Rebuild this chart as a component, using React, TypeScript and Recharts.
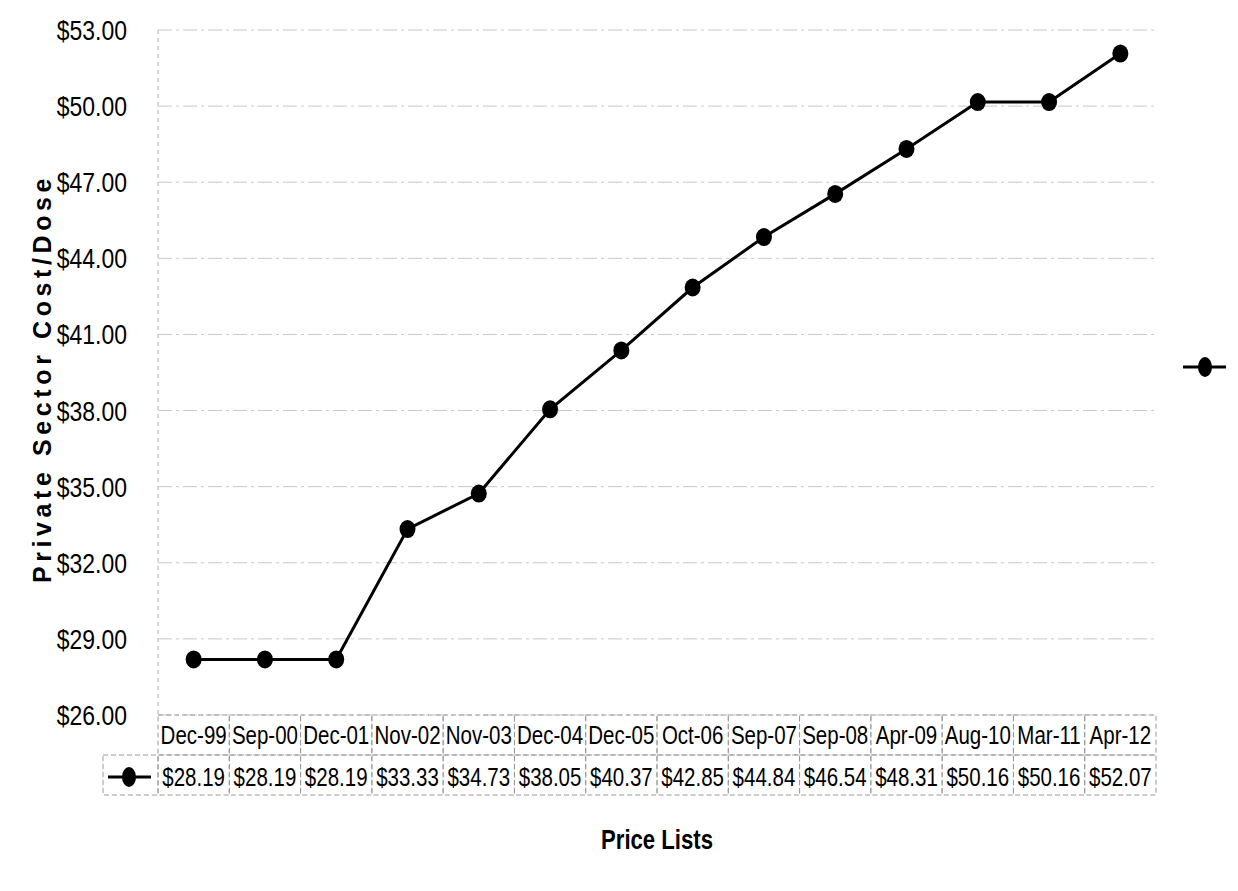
import { LineChart, Line, XAxis, YAxis, CartesianGrid, Legend } from 'recharts'

const categories = ['Dec-99', 'Sep-00', 'Dec-01', 'Nov-02', 'Nov-03', 'Dec-04', 'Dec-05', 'Oct-06', 'Sep-07', 'Sep-08', 'Apr-09', 'Aug-10', 'Mar-11', 'Apr-12']
const costs = [28.19, 28.19, 28.19, 33.33, 34.73, 38.05, 40.37, 42.85, 44.84, 46.54, 48.31, 50.16, 50.16, 52.07]
const yTicks = [26, 29, 32, 35, 38, 41, 44, 47, 50, 53]

const W = 1238
const H = 891
const MARGIN = { top: 30, right: 82, left: 0, bottom: 0 }
const Y_AXIS_W = 158
const PLOT_W = W - MARGIN.left - Y_AXIS_W - MARGIN.right
const ROW_H = 40
const SANS = '"Liberation Sans", Arial, sans-serif'
// no Arial Narrow here, so squeeze Liberation Sans horizontally
const NARROW_X = 0.82
const cellStroke = '#9a9a9a'

const fmt = (v: number) => `$${v.toFixed(2)}`

const data = categories.map((c, i) => ({ name: c, cost: costs[i] }))

function NarrowText({ x, y, size, children, anchor = 'middle', bold = false }: any) {
  return (
    <text
      transform={`translate(${x},${y}) scale(${NARROW_X},1)`}
      textAnchor={anchor}
      fontFamily={SANS}
      fontWeight={bold ? 'bold' : 'normal'}
      fontSize={size}
      fill="#000"
    >
      {children}
    </text>
  )
}

function Marker({ cx, cy }: { cx: number; cy: number }) {
  return <ellipse cx={cx} cy={cy} rx={8} ry={9} fill="#000" />
}

function YTick(props: any) {
  const { x, y, payload } = props
  return (
    <NarrowText x={x} y={y + 10} size={28} anchor="end">
      {fmt(payload.value)}
    </NarrowText>
  )
}

function TableTick(props: any) {
  const { x, y, payload } = props
  const i = payload.index ?? props.index
  const band = (props.width || PLOT_W) / categories.length
  const left = x - band / 2
  return (
    <g>
      <rect x={left} y={y} width={band} height={ROW_H} fill="none" stroke={cellStroke} strokeDasharray="5 3" strokeWidth={1} />
      <rect x={left} y={y + ROW_H} width={band} height={ROW_H} fill="none" stroke={cellStroke} strokeDasharray="5 3" strokeWidth={1} />
      <NarrowText x={x} y={y + 29} size={25}>
        {payload.value}
      </NarrowText>
      <NarrowText x={x} y={y + ROW_H + 31} size={25}>
        {fmt(costs[i])}
      </NarrowText>
      {i === 0 && (
        <g>
          <rect x={left - 55} y={y + ROW_H} width={55} height={ROW_H} fill="none" stroke={cellStroke} strokeDasharray="5 3" strokeWidth={1} />
          <line x1={left - 50} x2={left - 7} y1={y + ROW_H + 22} y2={y + ROW_H + 22} stroke="#000" strokeWidth={3} />
          <ellipse cx={left - 29} cy={y + ROW_H + 22} rx={7} ry={10} fill="#000" />
        </g>
      )}
    </g>
  )
}

function XTitle(props: any) {
  const { viewBox } = props
  return (
    <NarrowText x={viewBox.x + viewBox.width / 2} y={849} size={27} bold>
      Price Lists
    </NarrowText>
  )
}

function YTitle(props: any) {
  const { viewBox } = props
  const cx = 42
  const cy = viewBox.y + viewBox.height / 2 + 6
  return (
    <text
      x={cx}
      y={cy}
      transform={`rotate(-90 ${cx} ${cy})`}
      textAnchor="middle"
      dominantBaseline="central"
      fontFamily={SANS}
      fontWeight="bold"
      fontSize={25}
      letterSpacing={4.6}
      fill="#000"
    >
      Private Sector Cost/Dose
    </text>
  )
}

function LegendMarker() {
  return (
    <svg width={70} height={24} style={{ display: 'block' }}>
      <line x1={23} x2={66} y1={12} y2={12} stroke="#000" strokeWidth={3} />
      <ellipse cx={45} cy={12} rx={7} ry={10} fill="#000" />
    </svg>
  )
}

export default function App() {
  return (
    <div style={{ position: 'absolute', left: 0, top: 0, width: W, height: H, background: '#fff' }}>
      <LineChart width={W} height={H} data={data} margin={MARGIN}>
        <CartesianGrid vertical={false} stroke="#c8c8c8" strokeDasharray="14 4 3 4" />
        <XAxis
          dataKey="name"
          scale="band"
          height={H - MARGIN.top - 685}
          tickLine={false}
          axisLine={false}
          tickSize={0}
          tickMargin={0}
          interval={0}
          tick={<TableTick />}
          label={<XTitle />}
        />
        <YAxis
          width={Y_AXIS_W}
          domain={[26, 53]}
          ticks={yTicks}
          tickLine={false}
          axisLine={{ stroke: '#b0b0b0', strokeDasharray: '4 4' }}
          tickMargin={25}
          tick={<YTick />}
          label={<YTitle />}
        />
        <Legend
          layout="horizontal"
          align="center"
          verticalAlign="middle"
          wrapperStyle={{ left: 1160, top: 355, width: 70 }}
          content={() => <LegendMarker />}
        />
        <Line
          type="linear"
          dataKey="cost"
          stroke="#000"
          strokeWidth={3}
          dot={(p: any) => <Marker key={p.index} cx={p.cx} cy={p.cy} />}
          activeDot={false}
          isAnimationActive={false}
        />
      </LineChart>
    </div>
  )
}
